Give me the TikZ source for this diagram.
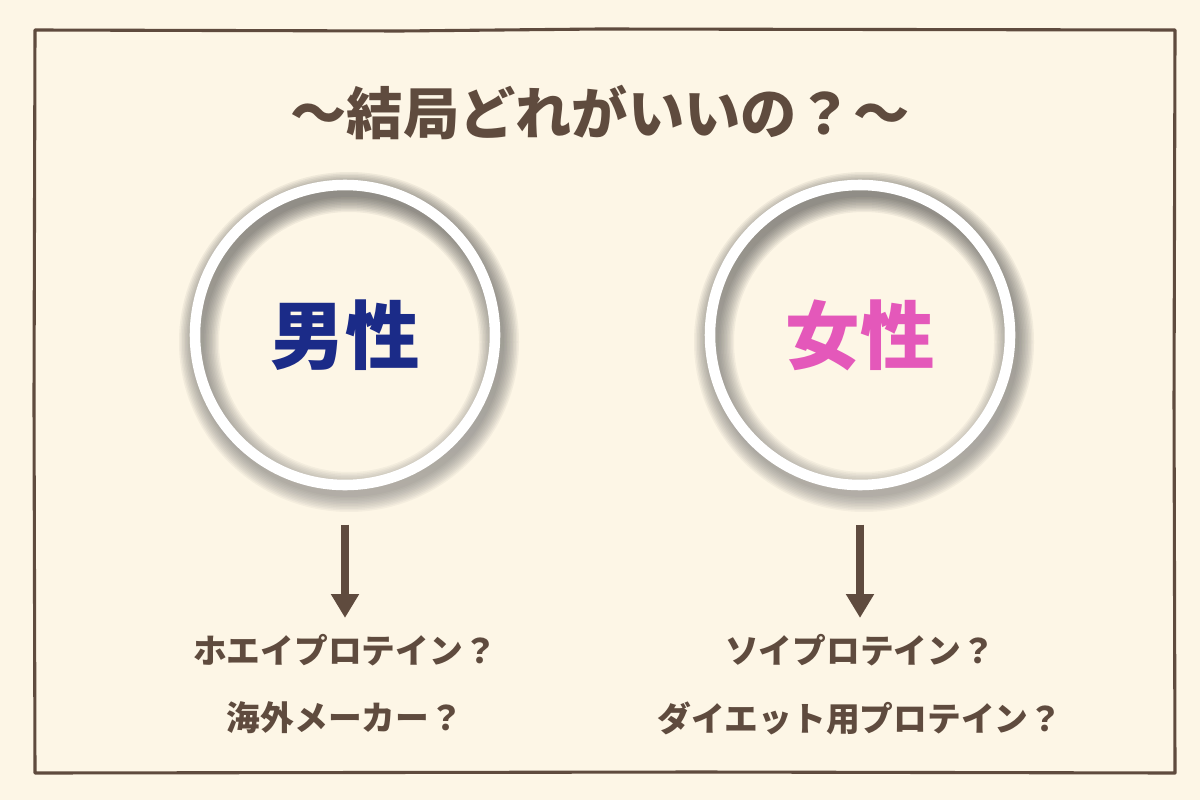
\documentclass[tikz,border=0pt]{standalone}
\usepackage{fontspec}
\newfontfamily\jpfont{Noto Sans CJK JP}
\usetikzlibrary{arrows.meta}
\definecolor{cream}{HTML}{FDF6E6}
\definecolor{bark}{HTML}{5F4B3E}
\definecolor{navy}{HTML}{1B2B88}
\definecolor{rose}{HTML}{E458BA}
\definecolor{shade}{HTML}{8A8070}
\begin{document}
\begin{tikzpicture}[x=0.025cm,y=-0.025cm,
    ring/.style={circle,minimum size=7.5cm,inner sep=0pt},
    big/.style={font=\jpfont\bfseries\fontsize{53}{53}\selectfont},
    answer/.style={text=bark,font=\jpfont\bfseries\fontsize{24}{24}\selectfont},
    down/.style={draw=bark,line width=5.7pt,-{Triangle[width=19pt,length=17pt]}},
  ]
\fill[cream] (0,0) rectangle (1200,800);
% rough frame
\draw[bark,line width=2.2pt,line join=round] (35,30) -- (400,31) -- (600,29) -- (1175,30)
  -- (1174,400) -- (1175,773) -- (700,772) -- (35,773) -- (34,400) -- cycle;
\node[text=bark,font=\jpfont\bfseries\fontsize{40}{40}\selectfont] (title) at (600,113) {～結局どれがいいの？～};
% the two rings with their soft shadows
\foreach \cx/\nm in {345/male,860/female}{
  \foreach \k in {0,1.5,...,15}
    \fill[shade,opacity=0.035,even odd rule] (\cx+4,342) circle (155+\k) (\cx+4,342) circle (145-\k);
  \draw[white,line width=7.5pt] (\cx,335) circle (150);
  \node[ring] (\nm) at (\cx,335) {};
}
\node[big,text=navy] (maletxt) at (male) {男性};
\node[big,text=rose] (femaletxt) at (female) {女性};
\node[answer] (whey) at (345,650) {ホエイプロテイン？};
\node[answer] (import) at (345,718) {海外メーカー？};
\node[answer] (soy) at (860,650) {ソイプロテイン？};
\node[answer] (diet) at (860,718) {ダイエット用プロテイン？};
\draw[down,shorten <=28pt,shorten >=8pt] (male.south) -- (whey.north);
\draw[down,shorten <=28pt,shorten >=8pt] (female.south) -- (soy.north);
\end{tikzpicture}
\end{document}
